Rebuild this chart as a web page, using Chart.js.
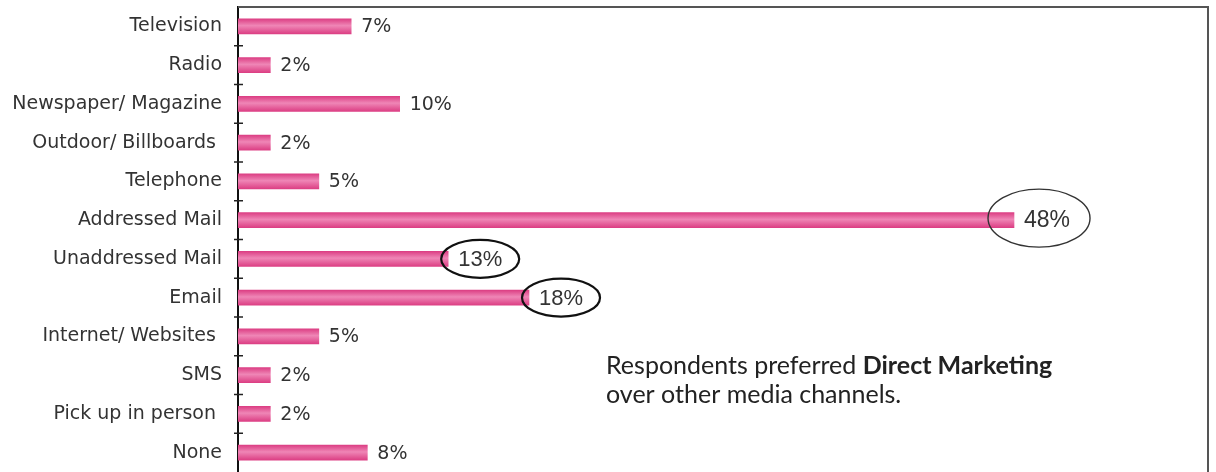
<!DOCTYPE html>
<html>
<head>
<meta charset="utf-8">
<script src="https://cdn.jsdelivr.net/npm/chart.js@4.4.1/dist/chart.umd.min.js"></script>
<style>
  html, body { margin: 0; padding: 0; background: #fff; }
  #wrap { width: 1216px; height: 472px; }
</style>
</head>
<body>
<div id="wrap"><canvas id="grafico"></canvas></div>
<script>
// datos del grafico
const canales = ['Television', 'Radio', 'Newspaper/ Magazine', 'Outdoor/ Billboards ', 'Telephone',
  'Addressed Mail', 'Unaddressed Mail', 'Email', 'Internet/ Websites ', 'SMS', 'Pick up in person ', 'None'];
const porcentajes = [7, 2, 10, 2, 5, 48, 13, 18, 5, 2, 2, 8];
const destacados = ['Addressed Mail', 'Unaddressed Mail', 'Email'];
const nota = ['Respondents preferred ', 'Direct Marketing', 'over other media channels.'];

// degradado rosa por barra (vertical)
function colorBarra(ctx) {
  const chart = ctx.chart;
  const y = chart.scales.y;
  if (!chart.chartArea || !y || ctx.dataIndex === undefined) return '#e24d91';
  const c = y.getPixelForValue(ctx.dataIndex);
  const g = chart.ctx.createLinearGradient(0, c - 7.5, 0, c + 7.5);
  g.addColorStop(0, '#dc3f84');
  g.addColorStop(0.45, '#ef86b6');
  g.addColorStop(1, '#dc3f84');
  return g;
}

// etiquetas, elipses, marco y nota
const extras = {
  id: 'extras',
  afterDatasetsDraw(chart) {
    const { ctx, chartArea: a, scales: { x, y } } = chart;
    ctx.save();

    // marco superior y derecho
    ctx.strokeStyle = '#555';
    ctx.lineWidth = 2;
    ctx.beginPath();
    ctx.moveTo(a.left, a.top);
    ctx.lineTo(a.right, a.top);
    ctx.lineTo(a.right, a.bottom + 5);
    ctx.stroke();

    // marcas entre categorias
    ctx.strokeStyle = '#222';
    ctx.lineWidth = 1.5;
    for (let i = 1; i < canales.length; i++) {
      const yy = (y.getPixelForValue(i - 1) + y.getPixelForValue(i)) / 2;
      ctx.beginPath();
      ctx.moveTo(a.left - 4, yy);
      ctx.lineTo(a.left + 5, yy);
      ctx.stroke();
    }

    // valores
    ctx.fillStyle = '#333';
    ctx.textBaseline = 'middle';
    ctx.textAlign = 'left';
    const maximo = Math.max(...porcentajes);
    porcentajes.forEach((v, i) => {
      const fin = x.getPixelForValue(v);
      const cy = y.getPixelForValue(i) + 1;
      const txt = v + '%';
      const marcado = destacados.includes(canales[i]);
      const grande = v === maximo;
      if (marcado) {
        ctx.font = (grande ? 23 : 22) + 'px "Liberation Sans", Arial, sans-serif';
      } else {
        ctx.font = '19px "DejaVu Sans", sans-serif';
      }
      ctx.fillText(txt, fin + 10, cy);
      if (marcado) {
        const w = ctx.measureText(txt).width;
        ctx.beginPath();
        ctx.lineWidth = grande ? 1.4 : 2.2;
        ctx.strokeStyle = grande ? '#333' : '#111';
        if (grande) {
          ctx.ellipse(fin + 10 + w / 2 - 8, cy - 3, 51, 29, 0, 0, Math.PI * 2);
        } else {
          ctx.ellipse(fin + 10 + w / 2, cy - 1, 39, 19, 0, 0, Math.PI * 2);
        }
        ctx.stroke();
      }
    });

    // nota
    ctx.fillStyle = '#222';
    ctx.textBaseline = 'alphabetic';
    ctx.font = '25px Lato, "Open Sans", sans-serif';
    ctx.fillText(nota[0], 606, 374);
    const w0 = ctx.measureText(nota[0]).width;
    ctx.font = 'bold 25px Lato, "Open Sans", sans-serif';
    ctx.fillText(nota[1], 606 + w0, 374);
    ctx.font = '25px Lato, "Open Sans", sans-serif';
    ctx.fillText(nota[2], 606, 403);

    ctx.restore();
  }
};

new Chart(document.getElementById('grafico').getContext('2d'), {
  type: 'bar',
  data: {
    labels: canales,
    datasets: [{
      data: porcentajes,
      backgroundColor: colorBarra,
      borderWidth: 0,
      barThickness: 15
    }]
  },
  options: {
    indexAxis: 'y',
    responsive: true,
    maintainAspectRatio: false,
    animation: false,
    layout: { padding: { top: 7, right: 8, bottom: 0, left: 0 } },
    plugins: { legend: { display: false }, tooltip: { enabled: false } },
    scales: {
      x: { display: false, min: 0, max: 60 },
      y: {
        afterFit: (s) => { s.width = 238; s.paddingTop = 0; s.paddingBottom = 0; },
        grid: { display: false, drawTicks: false },
        border: { display: true, color: '#111', width: 2 },
        ticks: {
          padding: 16,
          color: '#333',
          font: { family: '"DejaVu Sans", sans-serif', size: 19 }
        }
      }
    }
  },
  plugins: [extras]
});
</script>
</body>
</html>
